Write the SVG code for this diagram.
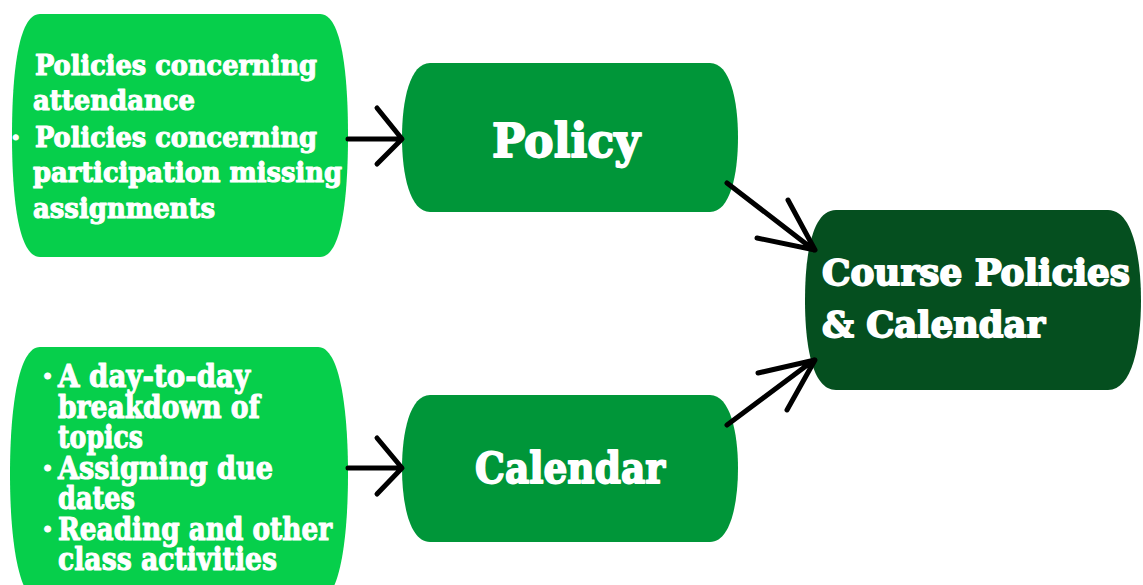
<svg xmlns="http://www.w3.org/2000/svg" width="1143" height="585" viewBox="0 0 1143 585">
<style>
.light{fill:#06cf4b}
.mid{fill:#009639}
.dark{fill:#054f1f}
text{font-family:"DejaVu Serif","Liberation Serif",serif;font-weight:bold;fill:#ffffff;stroke:#ffffff;stroke-linejoin:round}
.s{stroke-width:1.1}
.b{stroke-width:1.8}
.conn{stroke:#000;stroke-width:5;stroke-linecap:round;stroke-linejoin:round;fill:none}
</style>
<rect width="1143" height="585" fill="#ffffff"/>
<g id="policy-details">
<path class="light" d="M40,14 H320 C342,14 348,75 348,135.5 C348,196 342,257 320,257 H40 C18,257 12,196 12,135.5 C12,75 18,14 40,14 Z"/>
<text class="s" font-size="27">
<tspan x="3" y="75">·</tspan><tspan x="35" y="75" textLength="282" lengthAdjust="spacingAndGlyphs">Policies concerning</tspan>
<tspan x="33" y="110" textLength="162" lengthAdjust="spacingAndGlyphs">attendance</tspan>
<tspan x="11" y="147">·</tspan><tspan x="35" y="147" textLength="282" lengthAdjust="spacingAndGlyphs">Policies concerning</tspan>
<tspan x="33" y="182" textLength="309" lengthAdjust="spacingAndGlyphs">participation missing</tspan>
<tspan x="33" y="218" textLength="182" lengthAdjust="spacingAndGlyphs">assignments</tspan>
</text>
</g>
<g id="calendar-details">
<path class="light" d="M40,347 H318 C340,347 348,410 348,474 C348,538 340,601 318,601 H40 C18,601 10,538 10,474 C10,410 18,347 40,347 Z"/>
<text class="s" font-size="32">
<tspan x="42" y="387">·</tspan><tspan x="58" y="387" textLength="192" lengthAdjust="spacingAndGlyphs">A day-to-day</tspan>
<tspan x="58" y="418" textLength="202" lengthAdjust="spacingAndGlyphs">breakdown of</tspan>
<tspan x="58" y="448" textLength="85" lengthAdjust="spacingAndGlyphs">topics</tspan>
<tspan x="42" y="479">·</tspan><tspan x="58" y="479" textLength="215" lengthAdjust="spacingAndGlyphs">Assigning due</tspan>
<tspan x="58" y="509" textLength="77" lengthAdjust="spacingAndGlyphs">dates</tspan>
<tspan x="42" y="540">·</tspan><tspan x="58" y="540" textLength="274" lengthAdjust="spacingAndGlyphs">Reading and other</tspan>
<tspan x="58" y="570" textLength="219" lengthAdjust="spacingAndGlyphs">class activities</tspan>
</text>
</g>
<g id="policy">
<path class="mid" d="M430,63 H710 C730,63 738,100 738,137.5 C738,175 730,212 710,212 H430 C410,212 402,175 402,137.5 C402,100 410,63 430,63 Z"/>
<text class="b" x="492" y="157" font-size="47" textLength="148" lengthAdjust="spacingAndGlyphs">Policy</text>
</g>
<g id="calendar">
<path class="mid" d="M430,395 H710 C730,395 738,432 738,468.5 C738,505 730,542 710,542 H430 C410,542 402,505 402,468.5 C402,432 410,395 430,395 Z"/>
<text class="b" x="475" y="483" font-size="43" textLength="190" lengthAdjust="spacingAndGlyphs">Calendar</text>
</g>
<g id="course">
<path class="dark" d="M836,210 H1108 C1132,210 1141,255 1141,300 C1141,345 1132,390 1108,390 H836 C812,390 805,345 805,300 C805,255 812,210 836,210 Z"/>
<text class="b" font-size="35">
<tspan x="822" y="285" textLength="308" lengthAdjust="spacingAndGlyphs">Course Policies</tspan>
<tspan x="822" y="337" textLength="223" lengthAdjust="spacingAndGlyphs">&amp; Calendar</tspan>
</text>
</g>
<g id="connectors">
<path class="conn" d="M348,139 H401 M377,108 L402,139 L377,164"/>
<path class="conn" d="M348,468 H401 M377,438 L402,468 L377,494"/>
<path class="conn" d="M727,183 L814,250 M788,200 L815,250 L757,238"/>
<path class="conn" d="M727,425 L814,360 M758,373 L815,360 L787,410"/>
</g>
</svg>
